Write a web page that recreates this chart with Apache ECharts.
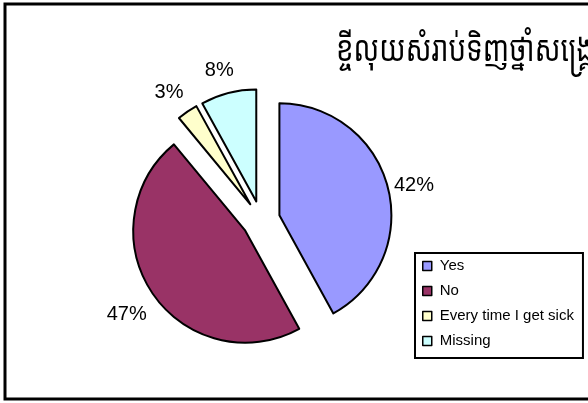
<!DOCTYPE html>
<html>
<head>
<meta charset="utf-8">
<script src="https://cdn.jsdelivr.net/npm/echarts@6/dist/echarts.min.js"></script>
<style>
  html, body { margin: 0; padding: 0; background: #fff; }
  #chart { width: 588px; height: 403px; }
</style>
</head>
<body>
<div id="chart"></div>
<script>
// Survey answers and their shares (percent)
const categories = ['Yes', 'No', 'Every time I get sick', 'Missing'];
const shares = [42, 47, 3, 8];
const sliceColors = ['#9999FF', '#993366', '#FFFFCC', '#CCFFFF'];
const titleText = 'ខ្ចីលុយសំរាប់ទិញថ្នាំសង្គ្រោះ';

const pieCenter = [261, 220];
const labelCenter = [259, 225];
const pieRadius = 112;
const explode = 19;

const chart = echarts.init(document.getElementById('chart'), null, { renderer: 'canvas' });

const sliceData = categories.map((name, i) => ({
  name: name,
  value: shares[i],
  selected: true,
  itemStyle: { color: sliceColors[i] }
}));

// Invisible ring used only to carry the percentage labels a bit outside each slice
const labelData = categories.map((name, i) => ({
  name: name,
  value: shares[i],
  selected: true
}));

chart.setOption({
  animation: false,
  backgroundColor: '#ffffff',
  textStyle: { fontFamily: 'Liberation Sans, Arial, sans-serif' },
  legend: {
    orient: 'vertical',
    left: 415,
    top: 253,
    data: categories,
    icon: 'rect',
    itemWidth: 9,
    itemHeight: 9,
    itemGap: 9,
    padding: [5, 9, 9, 7],
    borderColor: '#000',
    borderWidth: 2,
    backgroundColor: '#fff',
    selectedMode: false,
    itemStyle: { borderColor: '#000', borderWidth: 1.5 },
    textStyle: { fontSize: 15, lineHeight: 16, color: '#000', padding: [0, 0, 0, 3] }
  },
  graphic: [
    {
      // chart title, a tall and slightly condensed Khmer face
      type: 'text',
      x: 336,
      y: 33,
      scaleX: 0.77,
      silent: true,
      style: {
        text: titleText,
        font: '36px "Noto Sans Khmer", "Khmer OS", sans-serif',
        fill: '#000',
        verticalAlign: 'top'
      }
    },
    {
      type: 'rect',
      shape: { x: 5, y: 4, width: 620, height: 395 },
      style: { fill: 'none', stroke: '#000', lineWidth: 3 },
      z: 100,
      silent: true
    }
  ],
  series: [
    {
      type: 'pie',
      center: pieCenter,
      radius: [0, pieRadius],
      startAngle: 90,
      clockwise: true,
      selectedMode: 'multiple',
      selectedOffset: explode,
      avoidLabelOverlap: false,
      itemStyle: { borderColor: '#000', borderWidth: 2 },
      label: { show: false },
      labelLine: { show: false },
      emphasis: { disabled: true },
      select: { itemStyle: { borderColor: '#000', borderWidth: 2 } },
      data: sliceData,
      z: 2
    },
    {
      type: 'pie',
      center: labelCenter,
      radius: [pieRadius, pieRadius + 52],
      startAngle: 90,
      clockwise: true,
      selectedMode: 'multiple',
      selectedOffset: explode,
      silent: true,
      avoidLabelOverlap: false,
      itemStyle: { color: 'rgba(0,0,0,0)', borderWidth: 0 },
      select: { itemStyle: { color: 'rgba(0,0,0,0)', borderWidth: 0 } },
      emphasis: { disabled: true },
      label: {
        show: true,
        position: 'inside',
        formatter: '{c}%',
        fontSize: 20,
        color: '#000',
        fontFamily: 'Liberation Sans, Arial, sans-serif'
      },
      labelLine: { show: false },
      data: labelData,
      z: 1
    }
  ]
});
</script>
</body>
</html>
